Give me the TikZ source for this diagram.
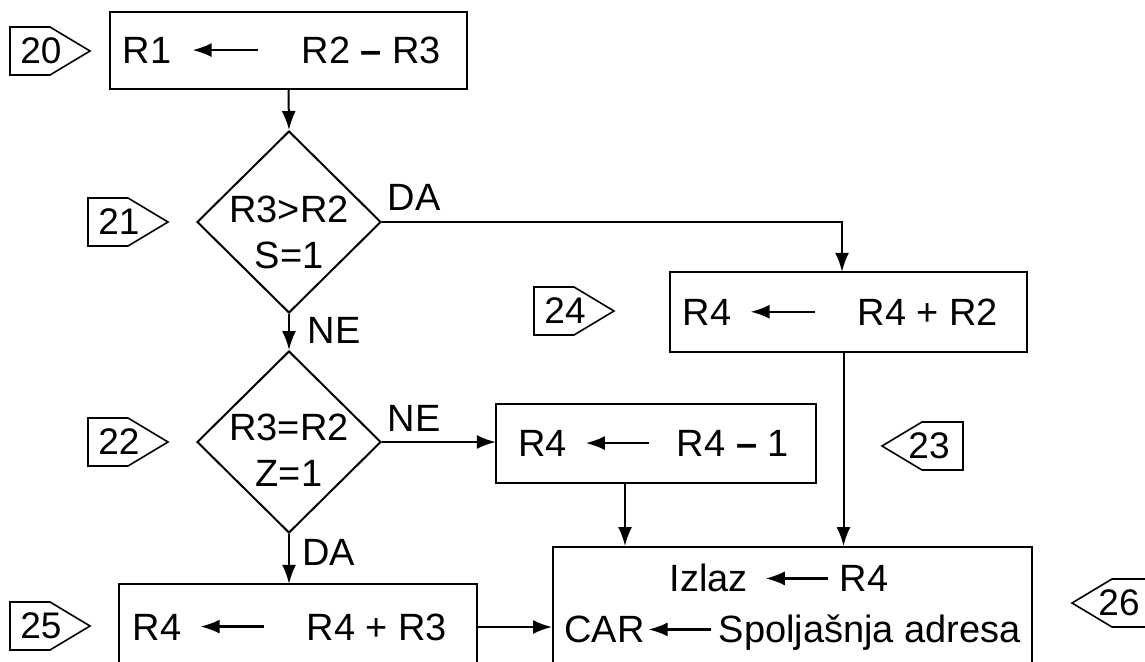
\documentclass[tikz,border=0pt]{standalone}
\usepackage{fontspec}
\setmainfont{Liberation Sans}
\usetikzlibrary{arrows.meta,shapes.geometric}
\newcommand\tarr[1]{\tikz[baseline=-13.5pt]\draw[line width=2.2pt,-{Latex[length=19pt,width=14pt]}] (0pt,0pt) -- (-#1pt,0pt);}
\newcommand\rtag[4]{\draw[tagbox] (#2,#3-24) -- (#2+40,#3-24) -- (#2+80,#3) -- (#2+40,#3+24) -- (#2,#3+24) -- cycle; \node[tagtxt] (#1) at (#2+31,#3) {#4};}
\newcommand\ltag[4]{\draw[tagbox] (#2,#3) -- (#2+40,#3-24) -- (#2+81,#3-24) -- (#2+81,#3+24) -- (#2+40,#3+24) -- cycle; \node[tagtxt] (#1) at (#2+47,#3) {#4};}
\begin{document}
\begin{tikzpicture}[x=1pt,y=-1pt,line width=2pt,
  box/.style={draw, rectangle, inner sep=0pt, font=\fontsize{38}{46}\selectfont},
  dec/.style={draw, diamond, inner sep=0pt, minimum width=184pt, minimum height=182pt},
  arr/.style={-{Latex[length=19pt,width=14pt]}},
  lbl/.style={font=\fontsize{38}{46}\selectfont, inner sep=0pt},
  biglbl/.style={font=\fontsize{38}{51}\selectfont, inner sep=0pt},
  tagtxt/.style={font=\fontsize{37}{40}\selectfont, inner sep=0pt},
  tagbox/.style={draw, line width=1.6pt}]
\useasboundingbox (0,0) rectangle (1145,661);
\fill[white] (0,0) rectangle (1145,661);
\clip (0,0) rectangle (1145,661);

% tags
\rtag{t20}{10}{51}{20}
\rtag{t21}{88}{222}{21}
\rtag{t22}{88}{442}{22}
\rtag{t24}{534}{311}{24}
\rtag{t25}{10}{626}{25}
\ltag{t23}{882}{446}{23}
\ltag{t26}{1072}{603}{26}

% boxes and decisions
\node[box, minimum width=357pt, minimum height=77pt] (b20) at (288.5,50.5)
  {R1\hspace{20pt}\tarr{65}\hspace{43pt}R2 {\bfseries –} R3\rule{13pt}{0pt}};
\node[dec, label={[lbl, align=center, yshift=-10pt]center:{R3>R2\\S=1}}] (d1) at (289,222) {};
\node[dec, label={[lbl, align=center, yshift=-8pt]center:{R3=R2\\Z=1}}] (d2) at (289,442) {};
\node[box, minimum width=357pt, minimum height=80pt] (b24) at (848.5,312)
  {R4\hspace{18pt}\tarr{64}\hspace{42pt}R4 + R2\rule{16pt}{0pt}};
\node[box, minimum width=320pt, minimum height=79pt] (b41) at (656,443.5)
  {R4\hspace{18pt}\tarr{63}\hspace{27pt}R4 {\bfseries –} 1\rule{5pt}{0pt}};
\node[box, minimum width=358pt, minimum height=86pt] (b25) at (298,627)
  {R4\hspace{18pt}\tarr{63}\hspace{42pt}R4 + R3\rule{16pt}{0pt}};
\node[box, minimum width=479pt, minimum height=130pt,
  label={[biglbl, align=center, yshift=4.4pt]center:{Izlaz\hspace{17pt}\tarr{62}\hspace{11pt}R4\rule{27pt}{0pt}\\CAR\hspace{3pt}\tarr{62}\hspace{7pt}Spoljašnja adresa}}]
  (big) at (792.5,612) {};

% branch labels
\node[lbl] (da1) at (414,197) {DA};
\node[lbl] (ne1) at (334,330) {NE};
\node[lbl] (ne2) at (414,418) {NE};
\node[lbl] (da2) at (328.5,552.5) {DA};

% connectors
\draw[arr] (b20.south) -- (d1.north);
\draw[arr] (d1.south) -- (d2.north);
\draw[arr] (d1.east) -| ([xshift=-6.5pt]b24.north);
\draw[arr] (d2.east) -- (d2.east -| b41.west);
\draw[arr] (d2.south) -- (d2.south |- b25.north);
\draw[arr] (b25.east) -- (b25.east -| big.west);
\draw[arr] ([xshift=-31pt]b41.south) -- ([xshift=-31pt]b41.south |- big.north);
\draw[arr] ([xshift=-5pt]b24.south) -- ([xshift=-5pt]b24.south |- big.north);
\end{tikzpicture}
\end{document}
